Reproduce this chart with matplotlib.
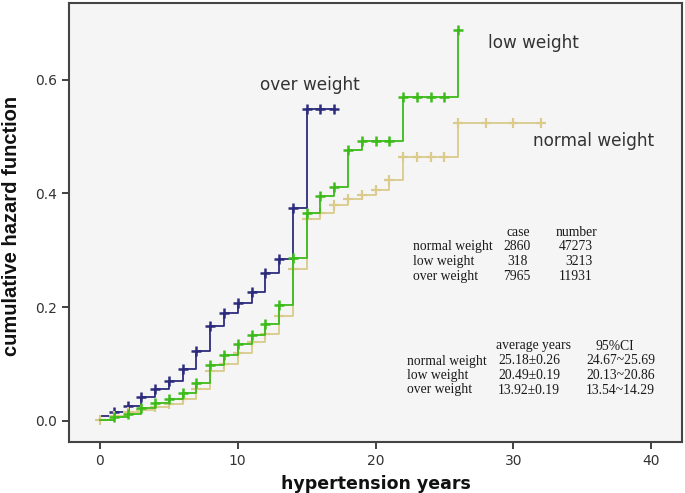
import numpy as np
import matplotlib
matplotlib.use("Agg")
from matplotlib import pyplot as plt

# cumulative hazard, one value per year
over_years = [0, 1, 2, 3, 4, 5, 6, 7, 8, 9, 10, 11, 12, 13, 14, 15, 16, 17]
over_hazard = [0.009, 0.016, 0.027, 0.043, 0.056, 0.071, 0.092, 0.123, 0.167,
               0.190, 0.207, 0.226, 0.260, 0.284, 0.374, 0.549, 0.549, 0.549]

low_years = [0, 1, 2, 3, 4, 5, 6, 7, 8, 9, 10, 11, 12, 13, 14, 15, 16, 17,
             18, 19, 20, 21, 22, 23, 24, 25, 26]
low_hazard = [0.002, 0.007, 0.013, 0.022, 0.031, 0.038, 0.049, 0.067, 0.099,
              0.116, 0.136, 0.151, 0.171, 0.204, 0.287, 0.366, 0.395, 0.412,
              0.477, 0.493, 0.493, 0.493, 0.570, 0.570, 0.570, 0.570, 0.688]

normal_years = [0, 1, 2, 3, 4, 5, 6, 7, 8, 9, 10, 11, 12, 13, 14, 15, 16, 17,
                18, 19, 20, 21, 22, 23, 24, 25, 26, 28, 30, 32]
normal_hazard = [0.001, 0.009, 0.015, 0.019, 0.024, 0.029, 0.038, 0.057, 0.088,
                 0.101, 0.119, 0.138, 0.153, 0.185, 0.268, 0.355, 0.365, 0.380,
                 0.390, 0.398, 0.406, 0.424, 0.465, 0.465, 0.465, 0.465, 0.524,
                 0.524, 0.524, 0.524]

groups = ["normal weight", "low weight", "over weight"]
cases = ["2860", "318", "7965"]
numbers = ["47273", "3213", "11931"]
avg_years = ["25.18\u00b10.26", "20.49\u00b10.19", "13.92\u00b10.19"]
ci95 = ["24.67~25.69", "20.13~20.86", "13.54~14.29"]

navy = "#2d2c7c"
green = "#3dbb1a"
tan = "#dacb8c"

W, H = 685, 493
fig = plt.figure(figsize=(6.85, 4.93), dpi=100)
ax = fig.add_axes([69 / W, 1 - 442 / H, (682 - 69) / W, (442 - 3) / H])
ax.set_facecolor("#f5f5f5")


def draw(years, hazard, color, mark_from, mew):
    ax.step(years, hazard, where="post", color=color, lw=1.3)
    ax.plot(years[mark_from:], hazard[mark_from:], "+", color=color,
            ms=7.5, mew=mew, ls="none")


draw(over_years, over_hazard, navy, 1, 1.8)
draw(normal_years, normal_hazard, tan, 0, 1.6)
draw(low_years, low_hazard, green, 1, 1.8)

ax.set_xlim(-2.25, 42.25)
ax.set_ylim(-0.037, 0.735)
ax.set_xticks([0, 10, 20, 30, 40])
ax.set_yticks([0.0, 0.2, 0.4, 0.6])
ax.set_yticklabels(["0.0", "0.2", "0.4", "0.6"])
ax.tick_params(length=5, width=1.3, color="#333333", labelcolor="#333333",
               labelsize=10)
for s in ax.spines.values():
    s.set_color("#444444")
    s.set_linewidth(1.5)

# axis titles in pixel positions
fig.text(375.5 / W, 1 - 484 / H, "hypertension years", fontsize=12.5,
         fontweight="bold", ha="center", va="center", color="#111111")
fig.text(12 / W, 1 - 226 / H, "cumulative hazard function", fontsize=14.5,
         fontweight="bold", family="Liberation Sans", rotation=90,
         ha="center", va="center", color="#111111")

lbl = dict(fontsize=12.2, color="#333333", ha="center", va="center")
ax.text(15.2, 0.591, "over weight", **lbl)
ax.text(31.5, 0.665, "low weight", **lbl)
ax.text(35.8, 0.4925, "normal weight", **lbl)

# the two little tables, placed in pixel coordinates
serif = dict(family="Liberation Serif", fontsize=9.8, color="#1a1a1a",
             va="center")


def px(x, y, s, **kw):
    fig.text(x / W, 1 - y / H, s, **serif, **kw)


px(518, 232.7, "case", ha="center")
px(577, 232.7, "number", ha="center")
for i in range(3):
    y = 246.7 + 15 * i
    px(413, y, groups[i], ha="left")
    px(517, y, cases[i], ha="center")
    px(593, y, numbers[i], ha="right")

px(534, 346, "average years", ha="center")
px(615, 346, "95%CI", ha="center")
for i in range(3):
    y = 361 + 14.5 * i
    px(407, y, groups[i], ha="left")
    px(498, y, avg_years[i], ha="left")
    px(586, y, ci95[i], ha="left")

fig.savefig("out.png", dpi=100)
